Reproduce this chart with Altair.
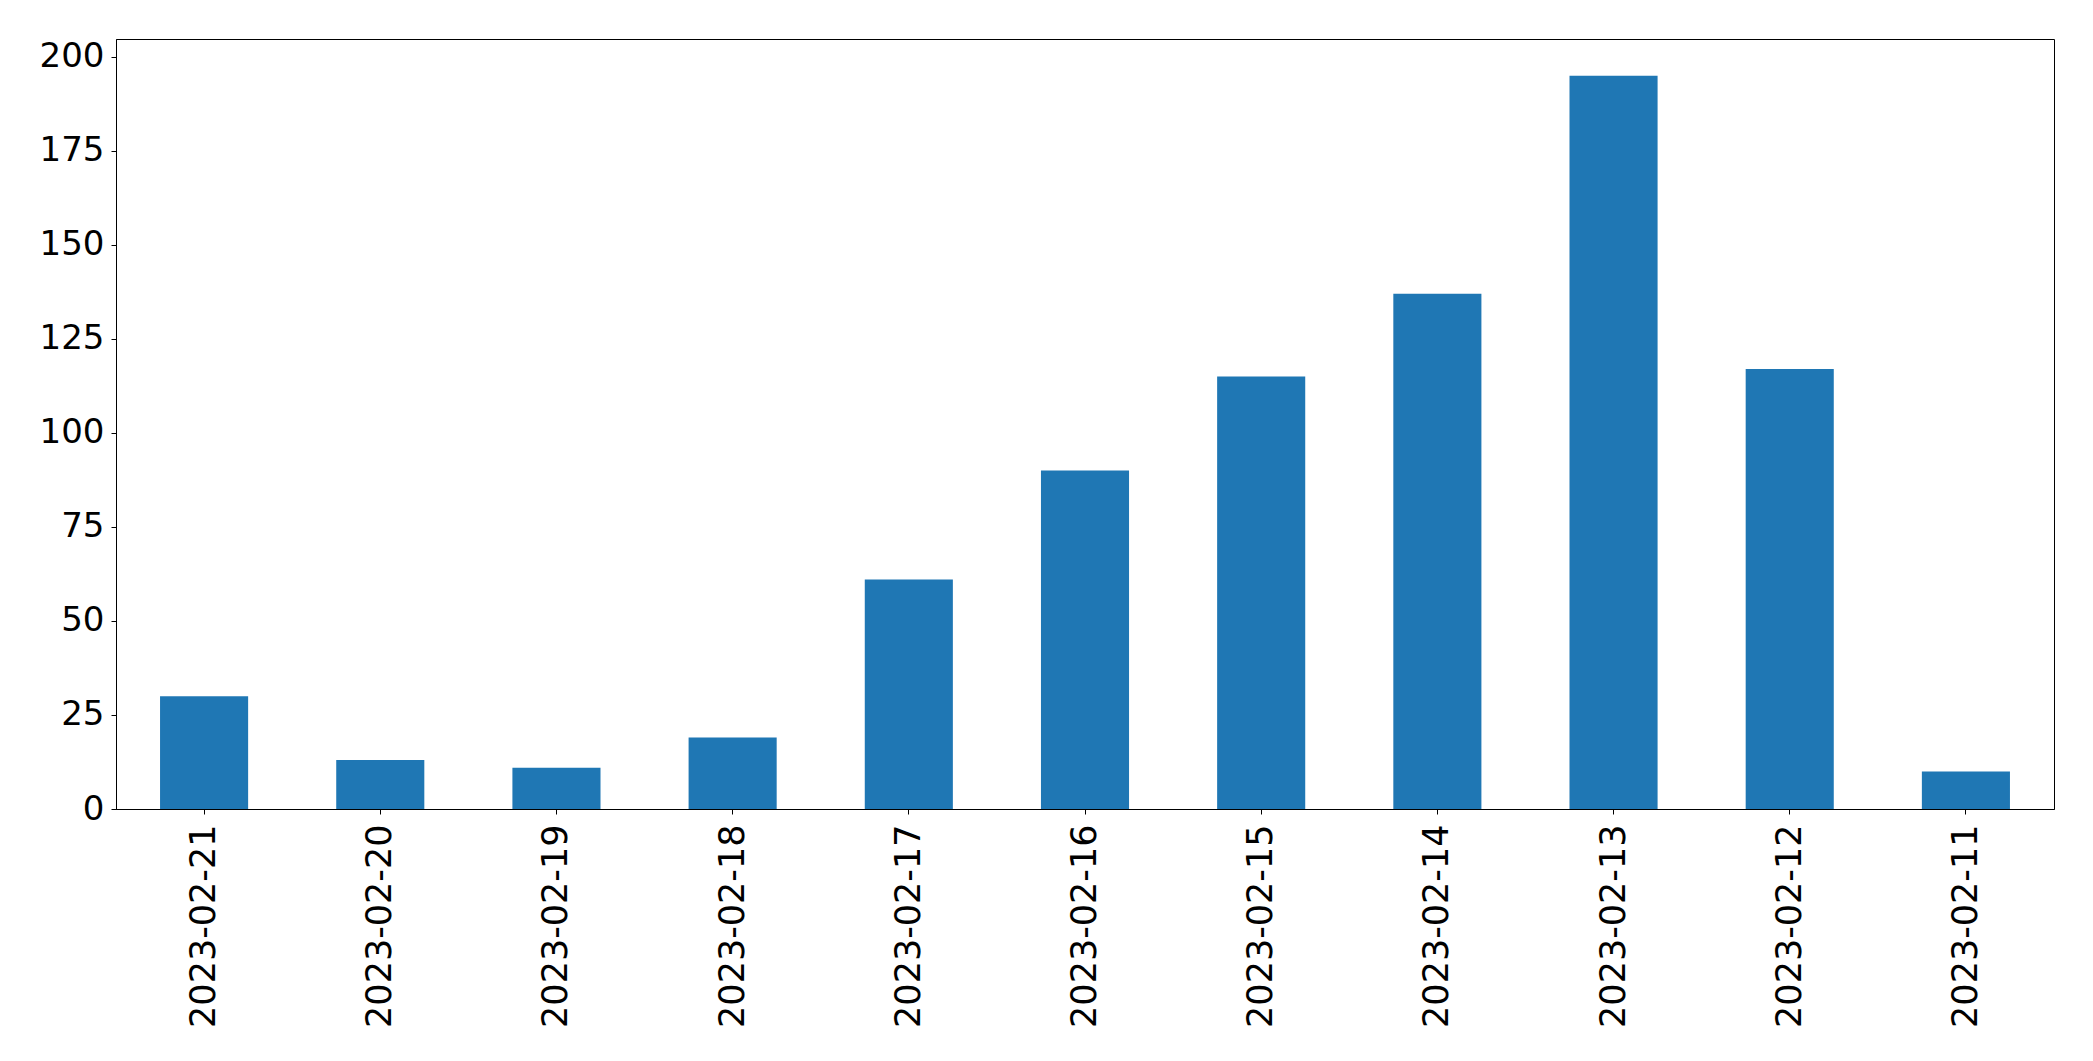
import altair as alt
import pandas as pd

dates = ["2023-02-21", "2023-02-20", "2023-02-19", "2023-02-18", "2023-02-17",
         "2023-02-16", "2023-02-15", "2023-02-14", "2023-02-13", "2023-02-12",
         "2023-02-11"]
counts = [30, 13, 11, 19, 61, 90, 115, 137, 195, 117, 10]
y_ticks = [0, 25, 50, 75, 100, 125, 150, 175, 200]

df = pd.DataFrame({"date": dates, "count": counts})

chart = alt.Chart(df).mark_bar(color="#1f77b4").encode(
    x=alt.X("date:N", sort=dates, title=None,
            scale=alt.Scale(paddingInner=0.5, paddingOuter=0.25),
            axis=alt.Axis(labelAngle=270, labelAlign="right", labelBaseline="middle",
                          labelFontSize=35, labelFont="DejaVu Sans", labelColor="black",
                          labelLimit=0, labelPadding=10, tickSize=5, tickColor="black",
                          domainColor="black", tickWidth=1, domainWidth=1)),
    y=alt.Y("count:Q", title=None,
            scale=alt.Scale(domain=[0, 204.75], nice=False, zero=True),
            axis=alt.Axis(values=y_ticks, grid=False, labelFontSize=34,
                          labelFont="DejaVu Sans", labelColor="black",
                          labelPadding=7, tickSize=5, tickColor="black",
                          domainColor="black", tickWidth=1, domainWidth=1)),
).properties(
    width=1938,
    height=770,
    autosize=alt.AutoSizeParams(type="none"),
    padding={"left": 116, "top": 39, "right": 39, "bottom": 252},
).configure(
    background="white",
    view=alt.ViewConfig(stroke="black", strokeWidth=1),
)

chart.save("out.html", embed_options={"renderer": "svg", "actions": False})
